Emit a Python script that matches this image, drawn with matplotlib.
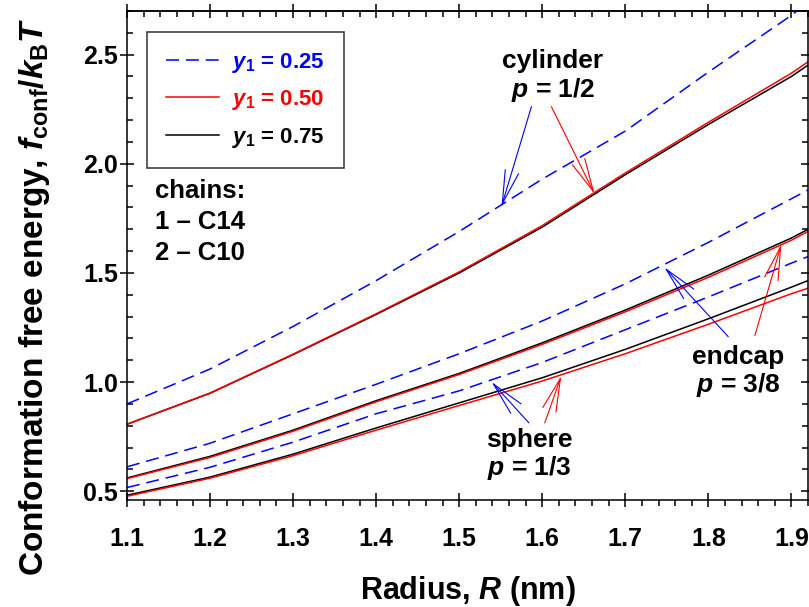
import numpy as np
import matplotlib
matplotlib.use('Agg')
import matplotlib.pyplot as plt
from matplotlib.ticker import MultipleLocator, FormatStrFormatter
from matplotlib.lines import Line2D

plt.rcParams['font.family'] = ['Liberation Sans', 'DejaVu Sans']
plt.rcParams['font.weight'] = 'bold'
plt.rcParams['axes.labelweight'] = 'bold'
plt.rcParams['mathtext.fontset'] = 'custom'
plt.rcParams['mathtext.it'] = 'Liberation Sans:italic:bold'
plt.rcParams['mathtext.rm'] = 'Liberation Sans:bold'
plt.rcParams['mathtext.bf'] = 'Liberation Sans:bold'

# radius (nm)
R = [1.1, 1.2, 1.3, 1.4, 1.5, 1.6, 1.7, 1.8, 1.9, 1.92]

# cylinder, p = 1/2
cyl_025 = [0.900, 1.060, 1.255, 1.465, 1.690, 1.930, 2.150, 2.420, 2.680, 2.740]
cyl_050 = [0.807, 0.950, 1.128, 1.313, 1.505, 1.717, 1.958, 2.190, 2.415, 2.467]
cyl_075 = [0.807, 0.949, 1.126, 1.310, 1.500, 1.710, 1.950, 2.180, 2.400, 2.452]

# endcap, p = 3/8
end_025 = [0.612, 0.720, 0.855, 0.990, 1.130, 1.280, 1.450, 1.640, 1.840, 1.880]
end_050 = [0.558, 0.655, 0.775, 0.910, 1.035, 1.173, 1.322, 1.480, 1.650, 1.690]
end_075 = [0.561, 0.660, 0.780, 0.915, 1.040, 1.180, 1.330, 1.490, 1.660, 1.700]

# sphere, p = 1/3
sph_025 = [0.517, 0.610, 0.725, 0.855, 0.960, 1.090, 1.240, 1.390, 1.545, 1.575]
sph_050 = [0.477, 0.560, 0.663, 0.780, 0.893, 1.005, 1.130, 1.265, 1.405, 1.430]
sph_075 = [0.482, 0.565, 0.670, 0.790, 0.905, 1.020, 1.150, 1.290, 1.435, 1.465]

y1_labels = ['0.25', '0.50', '0.75']
colors = ['#0000ff', '#ff0000', 'black']

fig = plt.figure(figsize=(8.09, 6.07), dpi=100)
ax = fig.add_axes([127/809, 107/607, 681/809, 489/607])

dash = (8.5, 4.5)
for yb in [cyl_025, end_025, sph_025]:
    ax.plot(R, yb, color=colors[0], lw=1.1, dashes=dash)
for yk in [cyl_075, end_075, sph_075]:
    ax.plot(R, yk, color=colors[2], lw=1.1)
for yr in [cyl_050, end_050, sph_050]:
    ax.plot(R, yr, color=colors[1], lw=1.1)

ax.set_xlim(1.1, 1.92)
ax.set_ylim(0.46, 2.70)
ax.xaxis.set_major_locator(MultipleLocator(0.1))
ax.xaxis.set_minor_locator(MultipleLocator(0.02))
ax.yaxis.set_major_locator(MultipleLocator(0.5))
ax.yaxis.set_minor_locator(MultipleLocator(0.1))
ax.xaxis.set_major_formatter(FormatStrFormatter('%.1f'))
ax.yaxis.set_major_formatter(FormatStrFormatter('%.1f'))

for s in ax.spines.values():
    s.set_linewidth(1.1)

ax.tick_params(which='major', direction='inout', length=9.5, width=1.1,
               labelsize=18, right=True, top=False)
ax.tick_params(which='minor', direction='in', length=4.5, width=1.1, right=True, top=False)
ax.tick_params(axis='x', which='minor', direction='out')
ax.tick_params(axis='x', pad=15)
ax.tick_params(axis='y', pad=1.75)

secax = ax.secondary_xaxis('top')
secax.xaxis.set_major_locator(MultipleLocator(0.1))
secax.xaxis.set_minor_locator(MultipleLocator(0.02))
secax.tick_params(which='major', direction='inout', length=9.5, width=1.1, labeltop=False)
secax.tick_params(which='minor', direction='in', length=4.5, width=1.1)
secax.spines['top'].set_linewidth(1.1)

ax.set_xlabel('Radius, $R$ (nm)', fontsize=22)
ax.set_ylabel(r'Conformation free energy, $f_{\mathrm{conf}}/k_{\mathrm{B}}T$', fontsize=24)
ax.xaxis.set_label_coords(0.5, -0.152)
ax.yaxis.set_label_coords(-0.11, 0.415)

# legend
handles = [Line2D([], [], color=colors[0], lw=1.1, dashes=dash),
           Line2D([], [], color=colors[1], lw=1.1),
           Line2D([], [], color=colors[2], lw=1.1)]
labels = ['$y_1$ = ' + v for v in y1_labels]
leg = ax.legend(handles, labels, loc='upper left', bbox_to_anchor=(0.029, 0.957),
                borderaxespad=0, fontsize=16, frameon=True, fancybox=False,
                handlelength=2.4, handletextpad=0.6, labelspacing=0.6,
                borderpad=0.85)
leg.get_frame().set_edgecolor('black')
leg.get_frame().set_linewidth(1.1)
for t, c in zip(leg.get_texts(), colors):
    t.set_color(c)

ax.text(0.041, 0.656, 'chains:\n1 \u2013 C14\n2 \u2013 C10', transform=ax.transAxes,
        ha='left', va='top', fontsize=18.5, linespacing=1.35)

# shape labels and arrows
ax.text(1.6126, 2.400, 'cylinder\n$p$ = 1/2', ha='center', va='center', fontsize=19, linespacing=1.1)
ax.text(1.836, 1.045, 'endcap\n$p$ = 3/8', ha='center', va='center', fontsize=19, linespacing=1.1)
ax.text(1.584, 0.666, 'sphere\n$p$ = 1/3', ha='center', va='center', fontsize=19, linespacing=1.1)

arrows = [((1.587, 2.262), (1.551, 1.806), colors[0]),
          ((1.611, 2.262), (1.663, 1.862), colors[1]),
          ((1.824, 1.208), (1.747, 1.526), colors[0]),
          ((1.856, 1.213), (1.888, 1.632), colors[1]),
          ((1.584, 0.813), (1.539, 1.001), colors[0]),
          ((1.603, 0.813), (1.623, 1.029), colors[1])]
for tail, head, c in arrows:
    ax.annotate('', xy=head, xytext=tail,
                arrowprops=dict(arrowstyle='->,head_length=1.2,head_width=0.25',
                                color=c, lw=0.8, mutation_scale=20,
                                shrinkA=0, shrinkB=0))

fig.savefig('out.png', dpi=100)
